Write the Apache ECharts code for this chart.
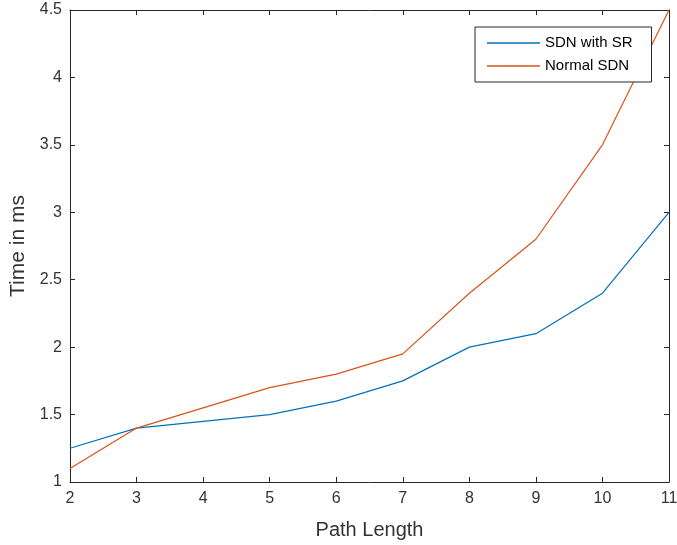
<!DOCTYPE html>
<html>
<head>
<meta charset="utf-8">
<script src="https://cdn.jsdelivr.net/npm/echarts@6/dist/echarts.min.js"></script>
<style>
html, body { margin: 0; padding: 0; background: #fff; }
#chart1 { width: 677px; height: 545px; }
</style>
</head>
<body>
<div id="chart1"></div>
<script>
var pathLength = [2, 3, 4, 5, 6, 7, 8, 9, 10, 11];
var sdnWithSR = [1.25, 1.4, 1.45, 1.5, 1.6, 1.75, 2.0, 2.1, 2.4, 3.0];
var normalSDN = [1.1, 1.4, 1.55, 1.7, 1.8, 1.95, 2.4, 2.8, 3.5, 4.5];

function pairs(xs, ys) {
	return xs.map(function (x, i) { return [x, ys[i]]; });
}

var myChart = echarts.init(document.getElementById('chart1'));
var axisCol = '#262626';
var textCol = '#333';
var font = 'Liberation Sans, Arial, sans-serif';

// 坐标轴公共样式（MATLAB风格：刻度朝内，四周封闭）
function boxAxis(extra) {
	var base = {
		type : 'value',
		axisLine : { show : true, lineStyle : { color : axisCol, width : 1 } },
		axisTick : { show : true, inside : true, length : 5, lineStyle : { color : axisCol } },
		splitLine : { show : false },
		axisLabel : { color : textCol, fontSize : 16, fontFamily : font }
	};
	for (var k in extra) base[k] = extra[k];
	return base;
}

var option = {
	animation : false,
	grid : { left : 70, right : 8, top : 10, bottom : 63, outerBoundsMode : 'none', containLabel : false },
	legend : {
		orient : 'vertical',
		left : 475,
		top : 27,
		padding : [7, 19, 7, 12],
		icon : 'rect',
		itemWidth : 53,
		itemHeight : 1.5,
		itemGap : 5,
		borderColor : axisCol,
		borderWidth : 1,
		backgroundColor : '#fff',
		textStyle : { color : '#000', fontSize : 15, fontFamily : font, lineHeight : 18 },
		data : ['SDN with SR', 'Normal SDN']
	},
	xAxis : [
		boxAxis({
			min : 2, max : 11, interval : 1,
			name : 'Path Length', nameLocation : 'middle', nameGap : 38,
			nameTextStyle : { color : textCol, fontSize : 20, fontFamily : font },
			axisLabel : { color : textCol, fontSize : 16, fontFamily : font, margin : 9 }
		}),
		boxAxis({ min : 2, max : 11, interval : 1, position : 'top', axisLabel : { show : false } })
	],
	yAxis : [
		boxAxis({
			min : 1, max : 4.5, interval : 0.5,
			name : 'Time in ms', nameLocation : 'middle', nameGap : 35,
			nameTextStyle : { color : textCol, fontSize : 21, fontFamily : font },
			axisLabel : { color : textCol, fontSize : 16, fontFamily : font, margin : 8 }
		}),
		boxAxis({ min : 1, max : 4.5, interval : 0.5, position : 'right', axisLabel : { show : false } })
	],
	series : [
		{
			name : 'SDN with SR',
			type : 'line',
			symbol : 'none',
			lineStyle : { color : '#0072BD', width : 1.2 },
			itemStyle : { color : '#0072BD' },
			data : pairs(pathLength, sdnWithSR)
		},
		{
			name : 'Normal SDN',
			type : 'line',
			symbol : 'none',
			lineStyle : { color : '#D95319', width : 1.2 },
			itemStyle : { color : '#D95319' },
			data : pairs(pathLength, normalSDN)
		}
	]
};

myChart.setOption(option);
</script>
</body>
</html>
